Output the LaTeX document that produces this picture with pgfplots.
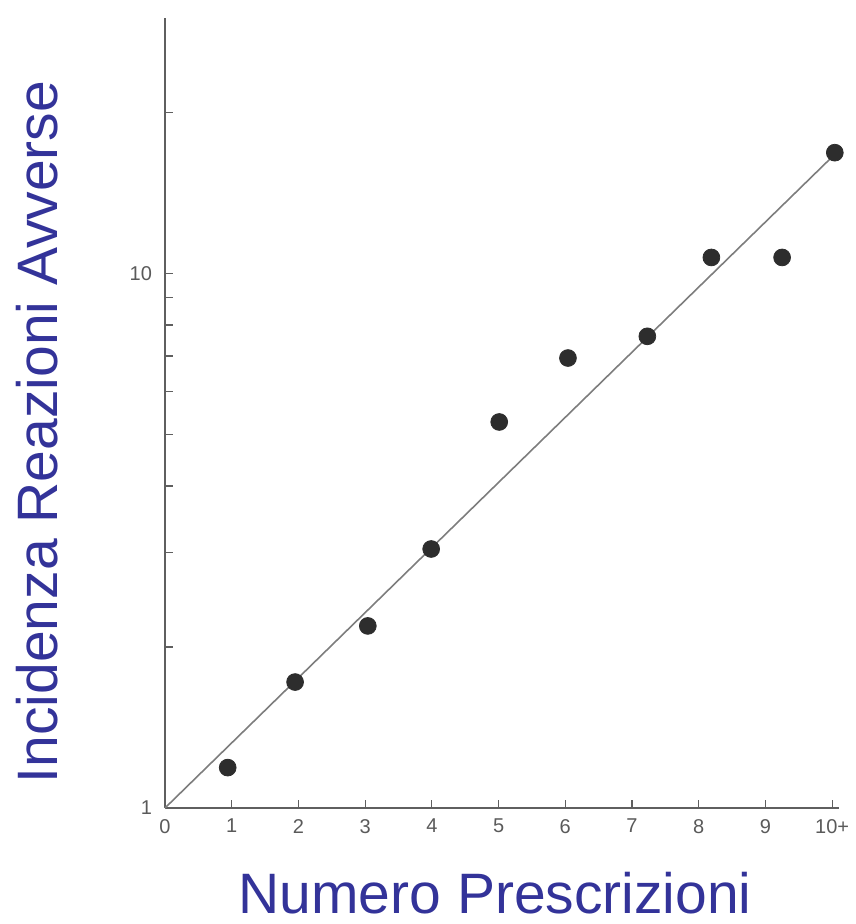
\documentclass[border=0pt]{standalone}
\usepackage{pgfplots}
\pgfplotsset{compat=1.18}
\usepackage{fontspec}
\setmainfont{Liberation Sans}
\definecolor{labblue}{RGB}{51,51,153}
\definecolor{axgray}{RGB}{95,95,95}
\definecolor{ticklab}{RGB}{90,90,90}
\definecolor{dotgray}{RGB}{45,45,45}
\definecolor{linegray}{RGB}{125,125,125}
\begin{document}
\begin{tikzpicture}
\begin{axis}[
  scale only axis,
  width=336.9pt, height=395pt,
  at={(0pt,0pt)}, anchor=origin,
  ymode=log, log basis y=10,
  xmin=0, xmax=10.1, ymin=1, ymax=30,
  axis lines=left,
  axis line style={-, axgray, line width=1.3pt},
  xtick={0,1,2,3,4,5,6,7,8,9,10},
  xticklabels={0,1,2,3,4,5,6,7,8,9,10+},
  ytick={1,10},
  yticklabels={1,10},
  minor ytick={2,3,4,5,6,7,8,9,20},
  tick align=inside,
  major tick length=4pt,
  minor tick length=4pt,
  every tick/.style={axgray, line width=0.6pt},
  /pgf/number format/assume math mode=true,
  tick label style={font=\fontsize{10}{12}\selectfont, text=ticklab},
  xticklabel style={yshift=-2pt},
  yticklabel style={xshift=-3pt},
  xlabel={Numero Prescrizioni},
  ylabel={Incidenza Reazioni Avverse},
  label style={font=\fontsize{28.5}{32}\selectfont, text=labblue},
  xlabel style={at={(axis description cs:0.49,-0.108)}, anchor=center},
  ylabel style={at={(axis description cs:-0.19,0.476)}, anchor=center, rotate=0},
  clip=false,
]
\addplot[linegray, line width=0.8pt, no marks] coordinates {(0,1) (10,16.5)};
\addplot[only marks, mark=*, mark size=4.2pt, dotgray, mark options={fill=dotgray, draw=dotgray}] coordinates {
  (0.94,1.19) (1.95,1.72) (3.04,2.19) (3.99,3.05) (5.01,5.27)
  (6.04,6.94) (7.23,7.62) (8.19,10.7) (9.25,10.7) (10.04,16.8)
};
\end{axis}
\pgfresetboundingbox
\path (-82.5pt,-58pt) rectangle (345pt,404pt);
\end{tikzpicture}
\end{document}
